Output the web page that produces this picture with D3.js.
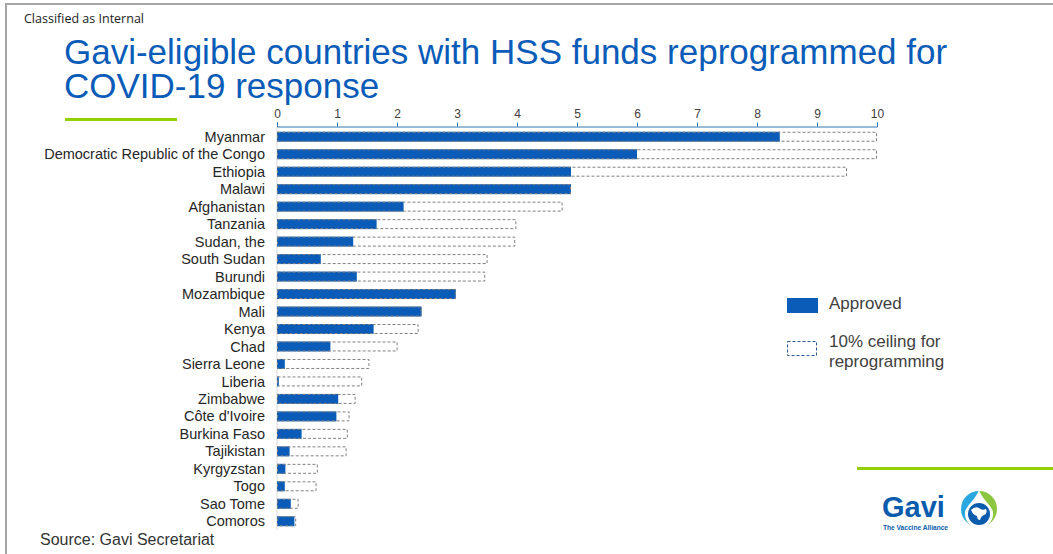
<!DOCTYPE html>
<html>
<head>
<meta charset="utf-8">
<script src="https://cdn.jsdelivr.net/npm/d3@7"></script>
<style>
  html, body { margin: 0; padding: 0; background: #fff; }
  svg { display: block; }
</style>
</head>
<body>
<svg id="chart" width="1053" height="554"></svg>
<script>
const countries = ["Myanmar", "Democratic Republic of the Congo", "Ethiopia", "Malawi", "Afghanistan",
  "Tanzania", "Sudan, the", "South Sudan", "Burundi", "Mozambique", "Mali", "Kenya", "Chad",
  "Sierra Leone", "Liberia", "Zimbabwe", "Côte d'Ivoire", "Burkina Faso", "Tajikistan",
  "Kyrgyzstan", "Togo ", "Sao Tome", "Comoros"];
const approved = [8.38, 6.0, 4.9, 4.9, 2.11, 1.66, 1.27, 0.73, 1.33, 2.98, 2.41, 1.61, 0.89,
  0.13, 0.03, 1.02, 0.99, 0.41, 0.21, 0.14, 0.13, 0.23, 0.29];
const ceiling = [10.0, 10.0, 9.5, 4.9, 4.76, 3.99, 3.97, 3.51, 3.47, 2.98, 2.41, 2.36, 2.01,
  1.54, 1.42, 1.31, 1.21, 1.18, 1.16, 0.68, 0.66, 0.36, 0.32];
const xTicks = [0, 1, 2, 3, 4, 5, 6, 7, 8, 9, 10];
const legendLabels = ["Approved", ["10% ceiling for", "reprogramming"]];

const svg = d3.select("#chart");
const blue = "#0a5cb8";
const green = "#92d000";
const font = "Liberation Sans, Arial, sans-serif";

// frame
svg.append("line").attr("x1", 5).attr("x2", 1053).attr("y1", 4).attr("y2", 4)
  .attr("stroke", "#a6a6a6").attr("stroke-width", 2);
svg.append("line").attr("x1", 6).attr("x2", 6).attr("y1", 3).attr("y2", 554)
  .attr("stroke", "#a6a6a6").attr("stroke-width", 2);

svg.append("text").attr("x", 24).attr("y", 23)
  .attr("font-family", "Open Sans, sans-serif").attr("font-size", 12.5).attr("fill", "#222")
  .text("Classified as Internal");

const title = svg.append("text").attr("font-family", font)
  .attr("font-size", 35).attr("fill", blue);
title.append("tspan").attr("x", 64).attr("y", 64).text("Gavi-eligible countries with HSS funds reprogrammed for");
title.append("tspan").attr("x", 64).attr("y", 98).text("COVID-19 response");

svg.append("rect").attr("x", 65).attr("y", 118).attr("width", 112).attr("height", 3).attr("fill", green);
svg.append("rect").attr("x", 857).attr("y", 467).attr("width", 196).attr("height", 3).attr("fill", green);

// scales
const x = d3.scaleLinear().domain([0, 10]).range([277, 877]);
const y = d3.scaleBand().domain(countries).range([128, 530]).paddingInner(0.43).paddingOuter(0.215);

// vertical baseline
svg.append("line").attr("x1", x(0)).attr("x2", x(0)).attr("y1", 127).attr("y2", 530)
  .attr("stroke", "#d9d9d9").attr("stroke-width", 1);

// axis
const axis = svg.append("g").attr("transform", "translate(0,126.5)")
  .call(d3.axisTop(x).tickValues(xTicks).tickSize(4).tickPadding(4.5).tickFormat(d3.format("d")));
axis.select(".domain").attr("stroke", "#2e75b6");
axis.selectAll(".tick line").attr("stroke", "#2e75b6");
axis.selectAll(".tick text").attr("font-family", font)
  .attr("font-size", 12).attr("fill", "#404040");

const data = countries.map((c, i) => ({ c, a: approved[i], m: ceiling[i] }));

svg.append("g").selectAll("rect").data(data).join("rect")
  .attr("x", x(0)).attr("y", d => y(d.c)).attr("width", d => x(d.a) - x(0))
  .attr("height", y.bandwidth()).attr("fill", blue);

svg.append("g").selectAll("rect").data(data).join("rect")
  .attr("x", x(0) + 0.5).attr("y", d => y(d.c) + 0.5).attr("width", d => x(d.m) - x(0) - 1)
  .attr("height", y.bandwidth() - 1).attr("fill", "none")
  .attr("stroke", "#808080").attr("stroke-width", 1).attr("stroke-dasharray", "3,2");

// category labels
svg.append("g").selectAll("text").data(countries).join("text")
  .attr("x", 265).attr("y", d => y(d) + y.bandwidth() / 2).attr("dy", "0.35em")
  .attr("text-anchor", "end").attr("font-family", font)
  .attr("font-size", 14.5).attr("fill", "#262626").text(d => d);

// legend
svg.append("rect").attr("x", 787).attr("y", 298).attr("width", 31).attr("height", 15).attr("fill", blue);
svg.append("text").attr("x", 829).attr("y", 309).attr("font-family", font)
  .attr("font-size", 17).attr("fill", "#404040").text(legendLabels[0]);
svg.append("rect").attr("x", 787.5).attr("y", 341.5).attr("width", 29).attr("height", 14).attr("fill", "none")
  .attr("stroke", "#2f5597").attr("stroke-width", 1).attr("stroke-dasharray", "3,2");
const l2 = svg.append("text").attr("font-family", font)
  .attr("font-size", 17).attr("fill", "#404040");
l2.append("tspan").attr("x", 829).attr("y", 347).text(legendLabels[1][0]);
l2.append("tspan").attr("x", 829).attr("y", 367).text(legendLabels[1][1]);

svg.append("text").attr("x", 40).attr("y", 545).attr("font-family", font)
  .attr("font-size", 16).attr("fill", "#333").text("Source: Gavi Secretariat");

// Gavi logo
const logo = svg.append("g");
logo.append("text").attr("x", 882).attr("y", 517).attr("font-family", font)
  .attr("font-weight", "bold").attr("font-size", 29).attr("fill", "#0b5cad").text("Gavi");
logo.append("text").attr("x", 883).attr("y", 530).attr("font-family", font)
  .attr("font-weight", "bold").attr("font-size", 6.6).attr("fill", "#0b5cad").text("The Vaccine Alliance");
const cx = 979, cy = 509, r = 18;
logo.append("path").attr("d", `M${cx},${cy - r} A${r},${r} 0 0,0 ${cx},${cy + r} Z`).attr("fill", "#2aa7df");
logo.append("path").attr("d", `M${cx},${cy - r} A${r},${r} 0 0,1 ${cx},${cy + r} Z`).attr("fill", "#8cc63f");
logo.append("path").attr("d", `M${cx},${cy - r - 1} C${cx + 4},${cy - 8} ${cx + 15},${cy - 2} ${cx + 14},${cy + 5} A14,14 0 0,1 ${cx - 14},${cy + 5} C${cx - 15},${cy - 2} ${cx - 4},${cy - 8} ${cx},${cy - r - 1} Z`).attr("fill", "#fff");
logo.append("circle").attr("cx", cx).attr("cy", cy + 5).attr("r", 11).attr("fill", "#0b5cad");
logo.append("path").attr("d", `M${cx - 8},${cy + 1} q4,-4 8,-2 q3,3 7,1 q2,4 -2,6 q-3,1 -4,5 q-3,0 -3,-4 q-4,-1 -6,-6 Z`).attr("fill", "#fff");
</script>
</body>
</html>
